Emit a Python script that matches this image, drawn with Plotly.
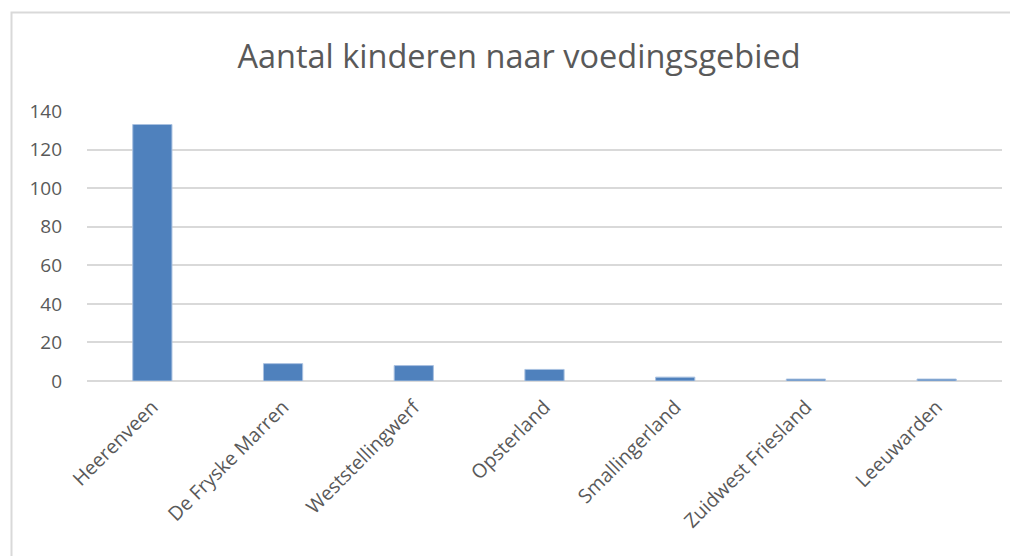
import plotly.graph_objects as go

gebieden = ['Heerenveen', 'De Fryske Marren', 'Weststellingwerf', 'Opsterland',
            'Smallingerland', 'Zuidwest Friesland', 'Leeuwarden']
aantal = [133, 9, 8, 6, 2, 1, 1]

W, H = 1018, 556
# page body has an 8px offset, so margins compensate for it
m_l, m_r, m_t, m_b = 79, 24, 103, 183

fig = go.Figure(
    go.Bar(
        x=gebieden,
        y=aantal,
        marker=dict(color='#4f81bd', line=dict(color='#a9c1e0', width=1)),
    )
)

pw = W - m_l - m_r
ph = H - m_t - m_b

fig.update_layout(
    width=W,
    height=H,
    paper_bgcolor='white',
    plot_bgcolor='white',
    font=dict(family='Open Sans', color='#595959', size=18),
    title=dict(
        text='Aantal kinderen naar voedingsgebied',
        font=dict(family='Open Sans', size=32.5, color='#595959'),
        x=511 / W, xanchor='center',
        y=1 - 49 / H, yanchor='middle',
    ),
    bargap=0.7,
    showlegend=False,
    margin=dict(l=m_l, r=m_r, t=m_t, b=m_b, pad=0),
    xaxis=dict(
        tickangle=-45,
        showgrid=False,
        showline=False,
        ticks='',
        ticklabelstandoff=10,
        tickfont=dict(size=19.5),
    ),
    yaxis=dict(
        range=[0, 140],
        dtick=20,
        gridcolor='#d9d9d9',
        gridwidth=2,
        zeroline=True,
        zerolinecolor='#d9d9d9',
        zerolinewidth=2,
        showline=False,
        ticks='',
        ticklabelstandoff=24,
        tickfont=dict(size=19),
    ),
    shapes=[
        dict(
            type='rect', xref='paper', yref='paper',
            x0=(3.5 - m_l) / pw, x1=(W + 10 - m_l) / pw,
            y0=-(H + 10 - m_t - ph) / ph, y1=1 + (m_t - 4.5) / ph,
            line=dict(color='#d9d9d9', width=2),
            fillcolor='rgba(0,0,0,0)',
            layer='below',
        )
    ],
)

fig.write_html("out.html")
